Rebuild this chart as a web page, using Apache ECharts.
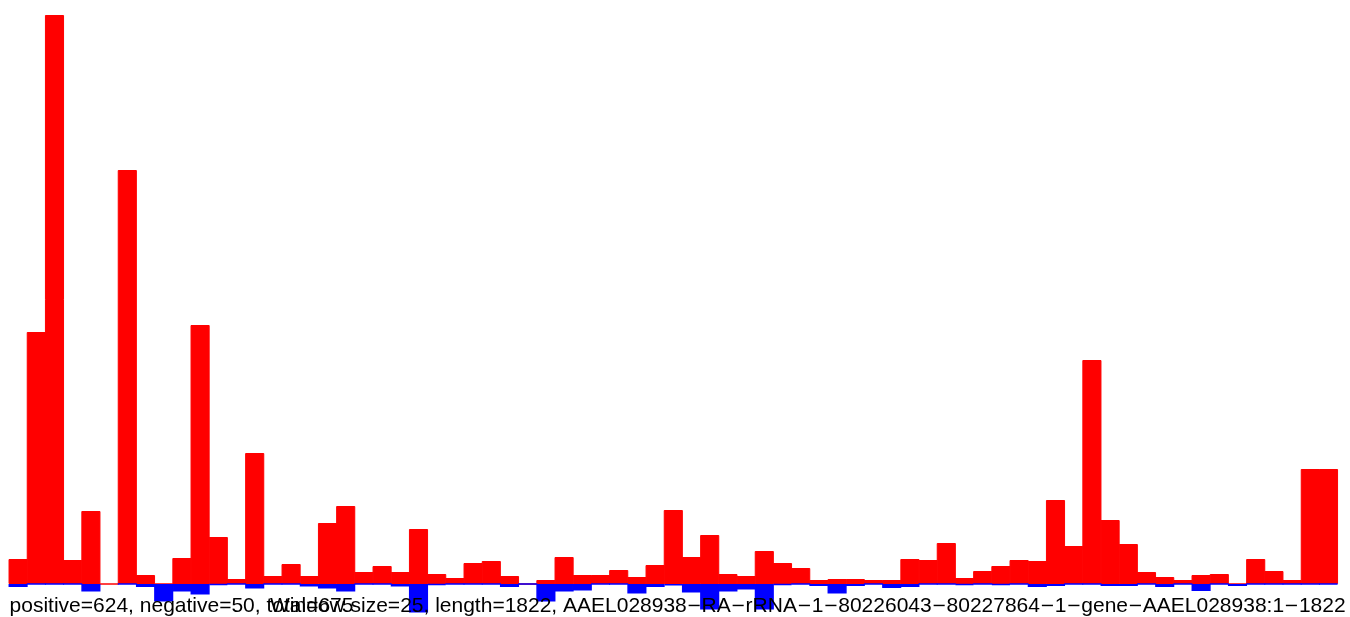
<!DOCTYPE html>
<html>
<head>
<meta charset="utf-8">
<script src="https://cdn.jsdelivr.net/npm/echarts@6/dist/echarts.min.js"></script>
<style>
html,body{margin:0;padding:0;background:#fff;}
#chart{width:1350px;height:617px;}
</style>
</head>
<body>
<div id="chart"></div>
<script>
// Window size 25 over length 1822 -> 73 windows
const windowSize = 25;
const seqLength = 1822;
const windowStarts = [];
for (let s = 1; s <= seqLength; s += windowSize) windowStarts.push(String(s));

// positive-strand signal per window (red, upward)
const positiveValues = [
  25,252,569,24,73,0,414,9,0,26,259,47,5,131,8,20,8,61,78,12,18,12,55,10,
  6,21,23,8,0,4,27,9,9,14,7,19,74,27,49,10,8,33,21,16,4,5,5,4,4,
  25,24,41,6,13,18,24,23,84,38,224,64,40,12,7,4,9,10,0,25,13,4,115,115
];
// negative-strand signal per window (blue, downward)
const negativeValues = [
  -3,0,0,0,-7.5,null,0,-3,-17.5,-7.5,-10.5,-1,0,-4.5,0,0,-2.5,-4.5,-7.5,0,0,-2.5,-28.5,-1,
  0,0,0,-3,0,-17.5,-7.5,-6.5,0,0,-9.5,-3,-1.5,-8.5,-25.5,-7.5,-5.5,-25.5,-1,0,-2,-9.5,-2,0,-4,
  -3,0,0,-1,0,-1,0,-3,-2,0,0,-2,-2,0,-3,0,-7,0,-2,0,0,0,0,0
];

const leftLabel = 'positive=624, negative=50, total=675';
const rightLabel = 'Window size=25, length=1822, AAEL028938\u2212RA\u2212rRNA\u22121\u221280226043\u221280227864\u22121\u2212gene\u2212AAEL028938:1\u22121822';
const rightRich = rightLabel.split('\u2212').join('{m|\u2212}');

const chart = echarts.init(document.getElementById('chart'), null, {renderer: 'canvas'});
chart.setOption({
  animation: false,
  backgroundColor: '#ffffff',
  grid: {left: 9, right: 12.4, top: 15, bottom: 0, containLabel: false},
  xAxis: {
    type: 'category',
    data: windowStarts,
    boundaryGap: true,
    show: false
  },
  yAxis: {
    type: 'value',
    min: -33,
    max: 569,
    show: false
  },
  series: [
    {
      type: 'bar',
      data: positiveValues,
      barWidth: '105%',
      barGap: '-100%',
      itemStyle: {color: '#ff0000', borderColor: '#ff0000', borderWidth: 1},
      z: 2
    },
    {
      type: 'bar',
      data: negativeValues,
      barWidth: '105%',
      barGap: '-100%',
      itemStyle: {color: '#0000ff', borderColor: '#0000ff', borderWidth: 1.5},
      z: 3
    }
  ],
  graphic: [
    {
      type: 'text', z: 100,
      style: {text: leftLabel, x: 9.6, y: 617, fill: '#000', font: '21px "Liberation Sans", Arial, sans-serif', align: 'left', verticalAlign: 'bottom'}
    },
    {
      type: 'text', z: 100,
      style: {
        text: rightRich, x: 270, y: 617, fill: '#000',
        font: '21px "Liberation Sans", Arial, sans-serif',
        fontFamily: '"Liberation Sans", Arial, sans-serif', fontSize: 21,
        align: 'left', verticalAlign: 'bottom',
        rich: {m: {fontFamily: '"DejaVu Sans"', fontSize: 17.7, fill: '#000'}}
      }
    }
  ]
});
</script>
</body>
</html>
